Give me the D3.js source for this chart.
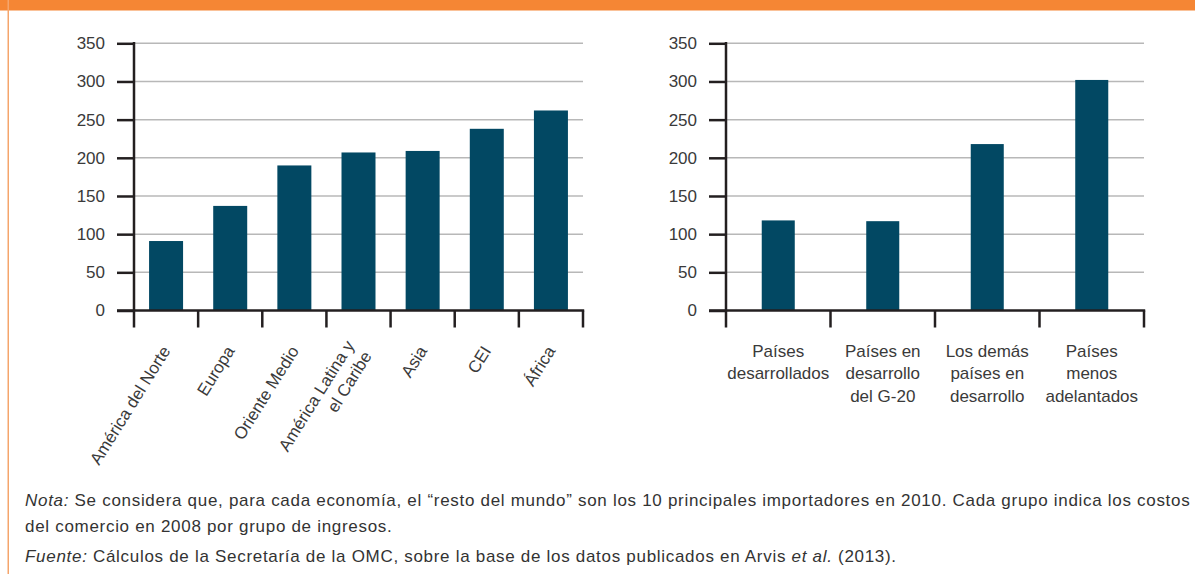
<!DOCTYPE html>
<html>
<head>
<meta charset="utf-8">
<script src="https://cdn.jsdelivr.net/npm/d3@7"></script>
<style>
  body { margin: 0; background: #fff; }
  svg { display: block; font-family: "Liberation Sans", Arial, sans-serif; }
</style>
</head>
<body>
<div id="chart-area"></div>
<script>
// datos
var regions = ["América del Norte", "Europa", "Oriente Medio", "América Latina y|el Caribe", "Asia", "CEI", "África"];
var regionCosts = [91, 137, 190, 207, 209, 238, 262];

var incomeGroups = ["Países|desarrollados", "Países en|desarrollo|del G-20", "Los demás|países en|desarrollo", "Países|menos|adelantados"];
var incomeCosts = [118, 117, 218, 302];

var yTicks = [0, 50, 100, 150, 200, 250, 300, 350];

var width = 1195, height = 574;
var barColor = "#024863";
var axisColor = "#231f20";
var gridColor = "#b8b8b8";
var textColor = "#3a3a3a";

var svg = d3.select("#chart-area").append("svg")
            .attr("width", width)
            .attr("height", height);

// marco naranja
svg.append("rect").attr("x", 0).attr("y", 0).attr("width", width).attr("height", 10.5).attr("fill", "#f58634");
svg.append("rect").attr("x", 7.5).attr("y", 0).attr("width", 1.5).attr("height", height).attr("fill", "#f5a56c");

function panel(cats, values, left, right, padInner, rotated) {
  var top = 43.3, bottom = 310.5, tick = 17;

  var y = d3.scaleLinear().domain([0, 350]).range([bottom, top]);
  var x = d3.scaleBand().domain(cats).range([left, right])
            .paddingInner(padInner).paddingOuter(padInner / 2);
  var xEdges = d3.scaleBand().domain(cats).range([left, right]).padding(0);

  var g = svg.append("g");

  // rejilla
  g.selectAll(".grid").data(yTicks.filter(function(d){ return d > 0; }))
    .enter().append("line")
    .attr("x1", left).attr("x2", right)
    .attr("y1", function(d){ return y(d); })
    .attr("y2", function(d){ return y(d); })
    .attr("stroke", gridColor).attr("stroke-width", 1.5);

  // barras
  g.selectAll("rect.bar").data(values)
    .enter().append("rect")
    .attr("class", "bar")
    .attr("x", function(d, i){ return x(cats[i]); })
    .attr("y", function(d){ return y(d); })
    .attr("width", x.bandwidth())
    .attr("height", function(d){ return bottom - y(d); })
    .attr("fill", barColor);

  // eje y
  var yAxis = g.append("g")
    .attr("transform", "translate(" + left + ",0)")
    .call(d3.axisLeft(y).tickValues(yTicks).tickSize(tick).tickPadding(12));
  yAxis.select(".domain").remove();
  yAxis.selectAll("line").attr("stroke", axisColor).attr("stroke-width", 2.5);
  yAxis.selectAll("text")
    .attr("font-size", "17px")
    .attr("font-family", "Liberation Sans, Arial, sans-serif")
    .attr("fill", textColor);

  g.append("line")
    .attr("x1", left).attr("x2", left)
    .attr("y1", top - 1.2).attr("y2", bottom + tick)
    .attr("stroke", axisColor).attr("stroke-width", 2.5);

  // eje x
  g.append("line")
    .attr("x1", left - tick).attr("x2", right + 1.2)
    .attr("y1", bottom).attr("y2", bottom)
    .attr("stroke", axisColor).attr("stroke-width", 2.5);

  var edges = cats.map(function(c){ return xEdges(c); }).concat([right]);
  g.selectAll(".xtick").data(edges.slice(1))
    .enter().append("line")
    .attr("x1", function(d){ return d; }).attr("x2", function(d){ return d; })
    .attr("y1", bottom).attr("y2", bottom + tick)
    .attr("stroke", axisColor).attr("stroke-width", 2.5);

  // etiquetas de categoría
  var labels = g.selectAll(".xlabel").data(cats)
    .enter().append("text")
    .attr("font-size", "17px")
    .attr("fill", textColor);

  if (rotated) {
    labels.attr("text-anchor", "end")
      .attr("transform", function(d){
        return "translate(" + (x(d) + x.bandwidth() / 2) + "," + (bottom + 37) + ") rotate(-58)";
      })
      .each(function(d){
        var lines = d.split("|");
        var t = d3.select(this);
        lines.forEach(function(l, i){
          t.append("tspan")
            .attr("x", 0)
            .attr("dy", i === 0 ? (0.35 - (lines.length - 1) * 0.6) + "em" : "1.2em")
            .text(l);
        });
      });
  } else {
    labels.attr("text-anchor", "middle")
      .each(function(d){
        var t = d3.select(this);
        var cx = x(d) + x.bandwidth() / 2;
        d.split("|").forEach(function(l, i){
          t.append("tspan")
            .attr("x", cx)
            .attr("y", bottom + 46 + i * 22.5)
            .text(l);
        });
      });
  }
}

panel(regions, regionCosts, 134, 583, 0.47, true);
panel(incomeGroups, incomeCosts, 726, 1144, 0.684, false);

// notas
var notes = svg.append("g")
  .attr("font-size", "17px")
  .attr("letter-spacing", "0.7px")
  .attr("fill", "#333");

var n1 = notes.append("text").attr("x", 25).attr("y", 506);
n1.append("tspan").attr("font-style", "italic").text("Nota:");
n1.append("tspan").text(" Se considera que, para cada economía, el “resto del mundo” son los 10 principales importadores en 2010. Cada grupo indica los costos");

notes.append("text").attr("x", 25).attr("y", 532)
  .text("del comercio en 2008 por grupo de ingresos.");

var n3 = notes.append("text").attr("x", 25).attr("y", 562);
n3.append("tspan").attr("font-style", "italic").text("Fuente:");
n3.append("tspan").text(" Cálculos de la Secretaría de la OMC, sobre la base de los datos publicados en Arvis ");
n3.append("tspan").attr("font-style", "italic").text("et al.");
n3.append("tspan").text(" (2013).");
</script>
</body>
</html>
